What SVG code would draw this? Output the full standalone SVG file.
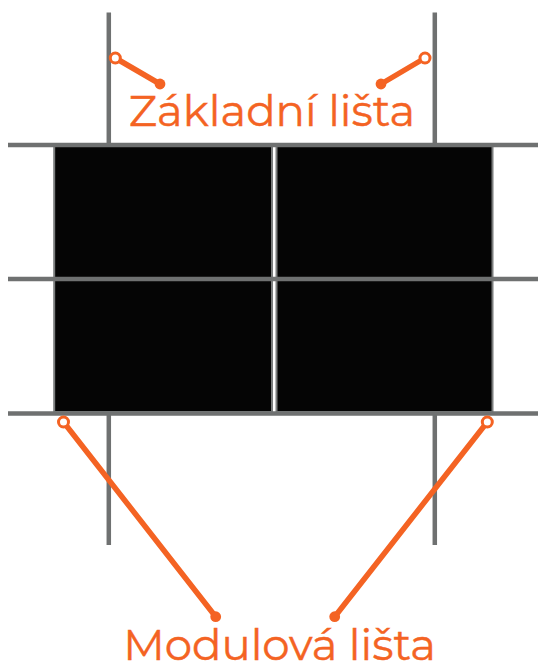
<svg xmlns="http://www.w3.org/2000/svg" width="538" height="666" viewBox="0 0 538 666">
<style>
.rail{stroke:#6f7171;stroke-width:4.500;fill:none}
.lead{stroke:#f46323;stroke-width:5.500;fill:none}
.open{fill:#fff;stroke:#f46323;stroke-width:3}
.dot{fill:#f46323}
.lbl{font-family:"Montserrat","Open Sans","Noto Sans",sans-serif;fill:#f46323;stroke:#f46323;stroke-width:.4;font-size:43.500px;text-anchor:middle}
.panel{fill:#050505;stroke:#7b7d7d;stroke-width:2}
</style>
<rect width="538" height="666" fill="#fff"/>
<g id="panels">
<rect class="panel" x="54.200" y="146" width="217.800" height="132"/>
<rect class="panel" x="276.500" y="146" width="216" height="132"/>
<rect class="panel" x="54.200" y="280" width="217.800" height="132"/>
<rect class="panel" x="276.500" y="280" width="216" height="132"/>
</g>
<g id="rails">
<path class="rail" d="M108.800 12.500V144M108.800 414V545M434.800 12.500V144M434.800 414V545"/>
<path class="rail" d="M8 145H538M8 279H538M8 413.500H538"/>
</g>
<g id="connectors">
<path class="lead" d="M115.300 58L160 84M425 58L381 84M63.500 422L215.700 616.700M487.300 422L334.700 616.700"/>
<circle class="dot" cx="160" cy="84" r="5.400"/>
<circle class="dot" cx="381" cy="84" r="5.400"/>
<circle class="dot" cx="215.700" cy="616.700" r="5.400"/>
<circle class="dot" cx="334.700" cy="616.700" r="5.400"/>
<circle class="open" cx="115.300" cy="58" r="5"/>
<circle class="open" cx="425" cy="58" r="5"/>
<circle class="open" cx="63.500" cy="422" r="5"/>
<circle class="open" cx="487.300" cy="422" r="5"/>
</g>
<g id="label-zakladni"><text class="lbl" x="272" y="126">Základní lišta</text></g>
<g id="label-modulova"><text class="lbl" x="279.500" y="660">Modulová lišta</text></g>
</svg>
